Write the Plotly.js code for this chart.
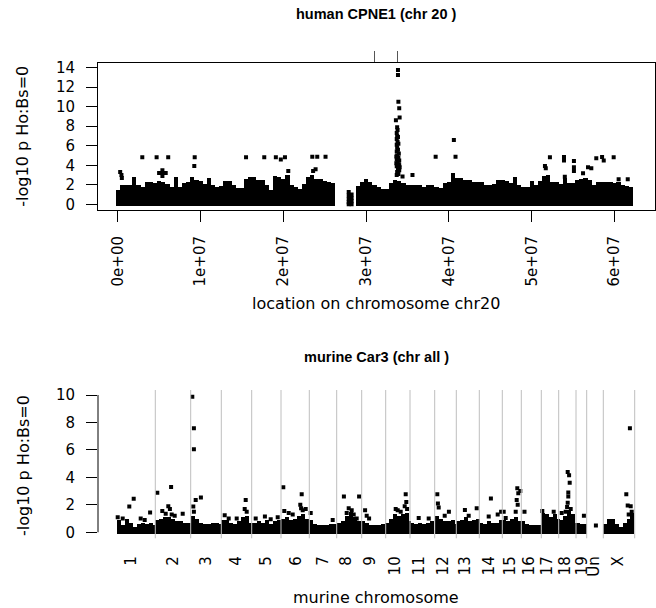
<!DOCTYPE html>
<html>
<head>
<meta charset="utf-8">
<script src="https://cdn.plot.ly/plotly-3.0.1.min.js"></script>
<style>html,body{margin:0;padding:0;background:#fff;}#chart{width:656px;height:608px;}</style>
</head>
<body>
<div id="chart"></div>
<script>
// ---------- human CPNE1, chr20 (positions in Mb) ----------
const chr20BandMb = [0.0,0.5,1.0,1.5,2.0,2.5,3.0,3.5,4.0,4.5,5.0,5.5,6.0,6.5,7.0,7.5,8.0,8.5,9.0,9.5,10.0,10.5,11.0,11.5,12.0,12.5,13.0,13.5,14.0,14.5,15.0,15.5,16.0,16.5,17.0,17.5,18.0,18.5,19.0,19.5,20.0,20.5,21.0,21.5,22.0,22.5,23.0,23.5,24.0,24.5,25.0,25.5,26.0,
  29.0,29.5,30.0,30.5,31.0,31.5,32.0,32.5,33.0,33.5,34.0,34.5,35.0,35.5,36.0,36.5,37.0,37.5,38.0,38.5,39.0,39.5,40.0,40.5,41.0,41.5,42.0,42.5,43.0,43.5,44.0,44.5,45.0,45.5,46.0,46.5,47.0,47.5,48.0,48.5,49.0,49.5,50.0,50.5,51.0,51.5,52.0,52.5,53.0,53.5,54.0,54.5,55.0,55.5,56.0,56.5,57.0,57.5,58.0,58.5,59.0,59.5,60.0,60.5,61.0,61.5,62.0];
const chr20BandTop = [1.5,2.0,2.0,2.0,2.8,2.0,1.8,2.3,2.3,2.2,2.4,2.3,2.1,1.8,2.8,1.8,2.2,2.3,2.8,2.5,2.4,2.1,2.7,2.0,1.8,1.9,2.4,2.4,2.0,1.7,1.7,2.6,2.8,2.8,2.5,2.5,2.0,1.5,2.9,2.8,2.6,3.0,2.0,1.8,1.6,2.1,2.8,3.0,2.6,2.6,2.4,2.3,2.2,
  1.9,2.3,2.6,2.3,2.0,1.8,1.6,1.6,2.2,2.5,2.4,2.2,2.0,2.0,2.0,2.0,1.8,2.0,2.0,1.8,1.7,2.2,2.3,3.2,2.7,2.7,2.5,2.5,2.3,2.3,2.3,2.0,2.0,2.1,2.5,2.5,2.4,2.2,2.8,2.0,1.8,1.8,2.4,2.0,2.4,2.9,3.0,2.3,2.3,2.1,2.7,2.2,2.2,2.5,2.6,2.7,2.5,2.0,2.3,2.3,2.3,2.3,2.2,2.3,2.0,1.9,1.8];
const chr20PointMb = [0.3,0.45,0.5,2.97,4.7,6.1,9.3,9.25,15.5,17.7,19.1,19.7,20.2,20.6,5.0,5.4,5.4,5.8,5.4,
  23.5,24.1,25.1,23.6,23.9,
  27.9,27.9,27.9,27.9,27.9,28.25,28.25,28.25,28.25,
  33.85,33.85,33.9,34.0,34.05,33.6,
  33.75,33.8,33.7,33.75,33.7,33.8,33.7,33.75,33.85,33.7,33.95,33.75,33.9,33.7,34.0,33.8,33.95,33.7,33.85,34.0,33.75,33.9,34.0,33.85,33.9,33.65,33.65,34.05,33.7,34.4,35.6,
  38.4,40.6,40.8,
  52.2,51.6,51.7,53.9,53.9,55.1,55.1,55.1,56.2,56.8,57.2,57.8,58.5,58.7,59.9,60.5,61.6,54.0];
const chr20PointP = [3.3,3.0,2.7,4.81,4.81,4.81,4.81,3.93,4.81,4.81,4.81,4.6,4.81,3.4,3.2,3.5,3.2,3.2,2.9,
  4.88,4.88,4.88,3.4,3.6,
  1.25,0.9,0.55,0.2,0.0,1.0,0.65,0.3,0.0,
  13.75,13.25,10.5,9.85,8.9,8.6,
  7.9,7.6,7.3,7.0,6.7,6.4,6.1,5.8,5.6,5.4,5.2,5.0,4.8,4.6,4.5,4.3,4.1,3.9,3.7,3.5,3.3,3.1,4.0,6.9,6.2,4.9,4.2,3.8,3.0,2.84,3.0,
  4.88,6.6,4.88,
  4.81,3.93,3.7,4.85,4.5,4.44,3.8,3.4,3.17,3.8,3.7,4.71,4.85,4.5,4.81,2.56,2.56,2.83];
const chr20GeneMarksMb = [31.0, 33.77];
const chr20TickMb = [0,10,20,30,40,50,60];
const chr20TickText = ["0e+00","1e+07","2e+07","3e+07","4e+07","5e+07","6e+07"];
const chr20YTicks = [0,2,4,6,8,10,12,14];

// ---------- murine Car3, all chromosomes (cumulative position, ~Mb) ----------
const mouseChrNames = ["1","2","3","4","5","6","7","8","9","10","11","12","13","14","15","16","17","18","19","Un","X"];
const mouseChrEnds = [193,370,523,675,821.5,963,1100,1225,1345,1466.5,1590,1698,1813,1928,2023,2123,2210,2296.5,2350,2433,2590];
const mouseLabelPos = [71.5,281.5,449,599,749,896.5,1031.5,1146.5,1266.5,1391.5,1511.5,1631.5,1744,1861.5,1966.5,2061.5,2151.5,2244,2329,2386.5,2506.5];
const car3BandPos = [10,30,50,70,90,110,130,150,170,185,
  200,220,240,260,280,300,320,340,360,
  380,400,420,440,460,480,500,515,
  530,550,570,590,610,630,650,670,
  690,710,730,750,770,790,810,
  830,850,870,890,910,930,950,
  970,990,1010,1030,1050,1070,1090,
  1110,1130,1150,1170,1190,1210,
  1230,1250,1270,1290,1310,1330,
  1350,1370,1390,1410,1430,1450,1462,
  1475,1495,1515,1535,1555,1575,
  1600,1620,1640,1660,1680,1695,
  1705,1725,1745,1765,1785,1805,
  1820,1840,1860,1880,1900,1920,
  1935,1955,1975,1995,2015,
  2030,2050,2070,2090,2110,
  2130,2150,2170,2190,2205,
  2220,2240,2260,2280,2292,
  2305,2325,2343,
  2440,2460,2480,2500,2520,2540,2560,2578];
const car3BandTop = [0.9,0.5,1.0,0.7,0.4,0.6,0.7,0.6,0.7,0.5,
  0.9,1.0,1.1,1.1,1.0,0.8,0.8,0.7,0.7,
  1.2,1.0,0.7,0.6,0.6,0.7,0.7,0.6,
  0.9,0.9,0.7,0.6,0.8,1.1,1.2,0.7,
  0.7,0.8,0.7,0.9,0.6,0.8,0.9,
  1.0,1.1,0.9,1.0,1.2,1.3,1.0,
  0.9,0.6,0.5,0.5,0.5,0.6,0.6,
  0.7,0.8,1.2,1.5,1.1,0.8,
  0.8,0.7,0.5,0.5,0.5,0.6,
  0.7,1.0,1.3,1.2,1.3,1.4,0.8,
  0.7,0.6,0.7,0.6,0.7,0.8,
  1.2,1.0,0.8,0.8,0.9,0.6,
  0.8,0.9,1.1,0.8,0.9,1.0,
  0.7,0.6,0.8,0.7,0.7,0.9,
  0.9,0.8,1.0,1.1,0.8,
  0.8,0.6,0.5,0.5,0.5,
  1.4,1.3,1.1,1.3,1.0,
  0.9,1.2,1.6,1.3,0.7,
  0.7,0.6,0.6,
  0.6,1.0,1.0,0.6,0.4,0.7,1.0,1.4];
const car3PointPos = [5,30,63,85,120,167,140,
  203,228,258,266,272,275,330,245,290,
  378,386,386,395,421,383,386,
  540,645,640,650,560,600,
  741,695,805,770,
  833,838,925,918,922,930,945,860,880,
  970,1080,
  1136,1212,1160,1175,1185,1150,1200,
  1242,1262,1250,
  1445,1448,1440,1395,1405,1420,1452,
  1510,1560,
  1603,1606,1610,1661,1640,
  1741,1800,1760,
  1871,1860,1905,1922,
  2003,2018,2008,2000,2005,1995,1935,1945,
  2039,
  2128,2185,
  2255,2262,2265,2258,2258,2255,2252,2225,2270,2245,
  2336,
  2396,
  2566,2548,2555,2570,2575,2560];
const car3PointP = [1.1,1.0,1.87,2.45,1.0,1.45,0.9,
  2.88,1.55,1.9,1.7,3.3,1.3,1.35,1.35,1.2,
  9.88,7.57,6.04,2.35,2.54,1.87,1.5,
  1.25,2.35,1.7,1.5,1.0,1.0,
  1.15,1.0,1.1,0.95,
  3.28,1.55,2.77,2.0,1.75,1.6,1.7,1.4,1.3,
  1.4,0.9,
  2.6,2.6,1.75,1.6,1.3,1.4,1.0,
  1.6,1.0,1.2,
  2.77,2.2,1.9,1.7,1.6,1.5,1.7,
  1.05,1.0,
  2.77,2.1,1.8,1.5,1.2,
  1.62,1.75,1.2,
  2.47,1.15,1.3,1.5,
  3.2,3.0,2.85,2.35,2.0,1.5,1.5,1.05,
  1.5,
  1.55,1.5,
  4.4,4.15,3.6,2.9,2.6,2.15,1.85,1.4,1.7,1.5,
  1.2,
  0.5,
  7.57,2.77,1.95,1.9,1.5,1.3];
const car3YTicks = [0,2,4,6,8,10];

// ---------- figure ----------
const W = 656, H = 608, ML = 98, MR = 1;
const PW = W - ML - MR;
const px = x => (x - ML) / PW;      // pixel -> paper x
const py = y => 1 - y / H;          // pixel -> paper y
const FONT = "DejaVu Sans";
const BOLD = "Liberation Sans";

const topBase = -0.2, botBase = -0.1;

const traces = [
  {type:'bar', x: chr20BandMb, y: chr20BandTop.map(v => v - topBase), base: topBase,
   width: 0.52, marker:{color:'#000', line:{width:0}}, xaxis:'x', yaxis:'y', hoverinfo:'skip'},
  {type:'scatter', mode:'markers', x: chr20PointMb, y: chr20PointP,
   marker:{symbol:'square', size:4, color:'#000', line:{width:0}}, xaxis:'x', yaxis:'y'},
  {type:'bar', x: car3BandPos, y: car3BandTop.map(v => v - botBase), base: botBase,
   width: 21, marker:{color:'#000', line:{width:0}}, xaxis:'x2', yaxis:'y2', hoverinfo:'skip'},
  {type:'scatter', mode:'markers', x: car3PointPos, y: car3PointP,
   marker:{symbol:'square', size:4, color:'#000', line:{width:0}}, xaxis:'x2', yaxis:'y2'},
  // invisible trace so the top gene-mark axis is drawn
  {type:'scatter', mode:'markers', x: chr20GeneMarksMb, y: [0,0], marker:{opacity:0}, xaxis:'x3', yaxis:'y', hoverinfo:'skip'}
];

const shapes = mouseChrEnds.map(u => ({type:'line', xref:'x2', yref:'y2 domain', x0:u, x1:u, y0:0, y1:1,
  line:{color:'#bebebe', width:1}, layer:'above'}));
shapes.push({type:'line', xref:'paper', yref:'y2', x0:0, x1:0,
  y0: Math.min(...car3YTicks), y1: Math.max(...car3YTicks), line:{color:'#000', width:1}});

const tickFont = {family: FONT, size: 15, color:'#000'};
const titleFont = {family: FONT, size: 16, color:'#000'};

const layout = {
  width: W, height: H, margin:{l:ML, r:MR, t:0, b:0, pad:0},
  paper_bgcolor:'#fff', plot_bgcolor:'#fff', showlegend:false, bargap:0,
  font:{family: FONT, color:'#000'},
  xaxis:{domain:[0,1], range:[(98-117.7)/8.28, (655-117.7)/8.28], anchor:'y',
    tickvals: chr20TickMb, ticktext: chr20TickText, tickangle:-90, tickfont: tickFont,
    ticks:'outside', ticklen:11, tickwidth:1, tickcolor:'#000', ticklabelstandoff:8,
    showline:true, mirror:true, linecolor:'#000', linewidth:1, showgrid:false, zeroline:false, fixedrange:true},
  yaxis:{domain:[py(210), py(63.3)], range:[(204.3-210)/9.76, (204.3-63.3)/9.76], anchor:'x',
    tickvals: chr20YTicks, tickfont: tickFont, ticks:'outside', ticklen:11, tickwidth:1, tickcolor:'#000',
    ticklabelstandoff:8, showline:true, mirror:true, linecolor:'#000', linewidth:1, showgrid:false, zeroline:false},
  xaxis3:{overlaying:'x', side:'top', anchor:'y', matches:'x', tickvals: chr20GeneMarksMb, showticklabels:false,
    ticks:'outside', ticklen:11, tickwidth:1, tickcolor:'#555', showline:false, showgrid:false, zeroline:false},
  xaxis2:{domain:[0,1], range:[(98-116.7)*5, (655-116.7)*5], anchor:'y2',
    tickvals: mouseLabelPos, ticktext: mouseChrNames, tickangle:-90, tickfont: tickFont,
    ticks:'', ticklabelstandoff:14, showline:false, showgrid:false, zeroline:false},
  yaxis2:{domain:[py(538.3), py(390)], range:[(532.3-538.3)/13.73, (532.3-390)/13.73], anchor:'x2',
    tickvals: car3YTicks, tickfont: tickFont, ticks:'outside', ticklen:11, tickwidth:1, tickcolor:'#000',
    ticklabelstandoff:8, showline:false, showgrid:false, zeroline:false},
  shapes: shapes,
  annotations:[
    {text:'<b>human CPNE1 (chr 20 )</b>', xref:'paper', yref:'paper', x:px(376), y:py(14), showarrow:false,
     xanchor:'center', yanchor:'middle', font:{family:BOLD, size:14.5, color:'#000'}},
    {text:'<b>murine Car3 (chr all )</b>', xref:'paper', yref:'paper', x:px(376), y:py(357), showarrow:false,
     xanchor:'center', yanchor:'middle', font:{family:BOLD, size:14.5, color:'#000'}},
    {text:'location on chromosome chr20', xref:'paper', yref:'paper', x:px(376), y:py(303), showarrow:false,
     xanchor:'center', yanchor:'middle', font:titleFont},
    {text:'murine chromosome', xref:'paper', yref:'paper', x:px(376), y:py(597), showarrow:false,
     xanchor:'center', yanchor:'middle', font:titleFont},
    {text:'-log10 p Ho:Bs=0', xref:'paper', yref:'paper', x:px(23), y:py(136.7), showarrow:false, textangle:-90,
     xanchor:'center', yanchor:'middle', font:titleFont},
    {text:'-log10 p Ho:Bs=0', xref:'paper', yref:'paper', x:px(23), y:py(466), showarrow:false, textangle:-90,
     xanchor:'center', yanchor:'middle', font:titleFont}
  ]
};

Plotly.newPlot('chart', traces, layout, {staticPlot:true, displayModeBar:false});
</script>
</body>
</html>
